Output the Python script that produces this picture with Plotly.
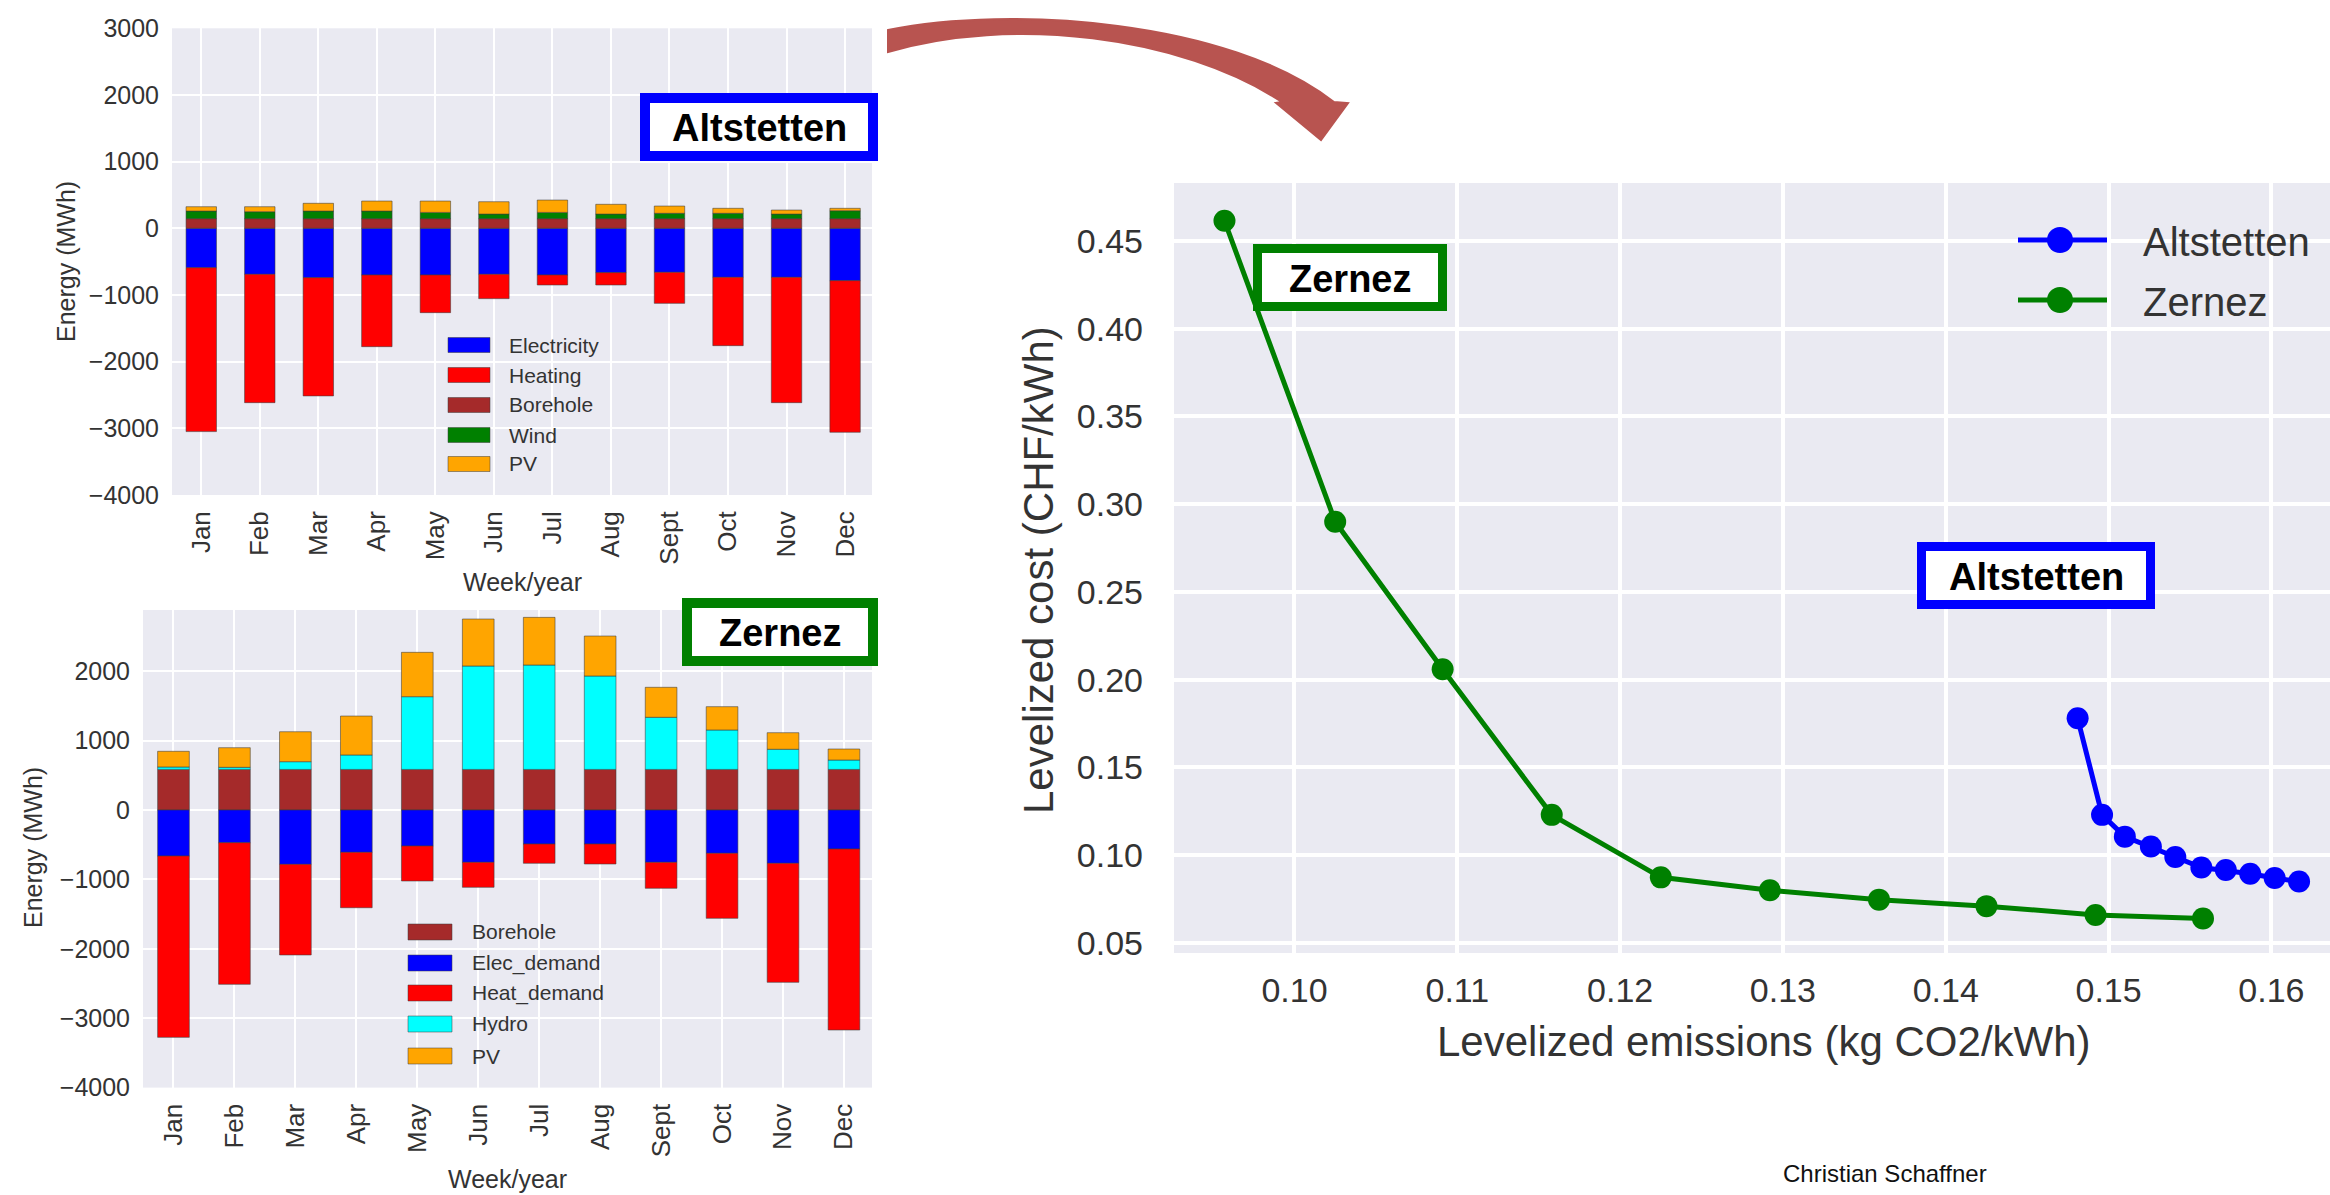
import plotly.graph_objects as go

W, H = 2330, 1195

# ---------------- data ----------------
months = ['Jan', 'Feb', 'Mar', 'Apr', 'May', 'Jun', 'Jul', 'Aug', 'Sept', 'Oct', 'Nov', 'Dec']

# Altstetten monthly energy balance (MWh)
alt_electricity = [-591, -690, -740, -700, -700, -690, -700, -665, -660, -735, -735, -785]
alt_heating = [-2458, -1925, -1774, -1075, -565, -365, -150, -185, -465, -1025, -1880, -2274]
alt_borehole = [145, 145, 145, 145, 145, 145, 145, 145, 145, 145, 145, 145]
alt_wind = [114, 104, 114, 114, 94, 69, 94, 69, 80, 80, 69, 119]
alt_pv = [65, 75, 116, 150, 170, 185, 185, 146, 109, 75, 60, 36]

# Zernez monthly energy balance (MWh)
zer_borehole = [585, 585, 585, 585, 585, 585, 585, 585, 585, 585, 585, 585]
zer_elec = [-663, -471, -783, -610, -519, -754, -490, -490, -754, -624, -768, -562]
zer_heat = [-2613, -2041, -1306, -798, -504, -360, -278, -288, -374, -937, -1715, -2608]
zer_hydro = [35, 30, 111, 208, 1048, 1490, 1504, 1346, 751, 568, 290, 135]
zer_pv = [226, 283, 432, 561, 639, 677, 687, 576, 432, 336, 239, 159]

# Pareto fronts
alt_emis = [0.1481, 0.1496, 0.1510, 0.1526, 0.1541, 0.1557, 0.1572, 0.1587, 0.1602, 0.1617]
alt_cost = [0.178, 0.123, 0.1106, 0.105, 0.099, 0.093, 0.0916, 0.0895, 0.087, 0.085]
zer_emis = [0.0957, 0.1025, 0.1091, 0.1158, 0.1225, 0.1292, 0.1359, 0.1425, 0.1492, 0.1558]
zer_cost = [0.4615, 0.290, 0.206, 0.123, 0.0874, 0.080, 0.0747, 0.071, 0.066, 0.064]

alt_names = ['Electricity', 'Heating', 'Borehole', 'Wind', 'PV']
zer_names = ['Borehole', 'Elec_demand', 'Heat_demand', 'Hydro', 'PV']
front_names = ['Altstetten', 'Zernez']

# ---------------- styling ----------------
C = dict(blue='#0000FF', red='#FF0000', brown='#A52A2A', green='#008000',
         orange='#FFA500', cyan='#00FFFF')
alt_colors = [C['blue'], C['red'], C['brown'], C['green'], C['orange']]
zer_colors = [C['brown'], C['blue'], C['red'], C['cyan'], C['orange']]
front_colors = [C['blue'], C['green']]
TXT = '#333333'
FONT = 'Liberation Sans, Arial, sans-serif'
BG = '#EAEAF2'


def px(x):
    return x / W


def py(y):
    return 1 - y / H


fig = go.Figure()
edge = dict(width=1, color='rgba(60,60,60,0.55)')

for name, vals, col in zip(alt_names, [alt_electricity, alt_heating, alt_borehole, alt_wind, alt_pv], alt_colors):
    fig.add_trace(go.Bar(x=months, y=vals, name=name, marker=dict(color=col, line=edge),
                         width=0.52, xaxis='x', yaxis='y', showlegend=False))

for name, vals, col in zip(zer_names, [zer_borehole, zer_elec, zer_heat, zer_hydro, zer_pv], zer_colors):
    fig.add_trace(go.Bar(x=months, y=vals, name=name, marker=dict(color=col, line=edge),
                         width=0.52, xaxis='x2', yaxis='y2', showlegend=False))

for name, xs, ys, col in zip(front_names, [alt_emis, zer_emis], [alt_cost, zer_cost], front_colors):
    fig.add_trace(go.Scatter(x=xs, y=ys, name=name, mode='lines+markers',
                             line=dict(color=col, width=5), marker=dict(size=22, color=col),
                             xaxis='x3', yaxis='y3', showlegend=False))

bar_x = dict(type='category', showgrid=True, gridcolor='white', gridwidth=2, zeroline=False,
             showline=False, ticks='', tickangle=-90, tickfont=dict(size=26, color=TXT, family=FONT),
             range=[-0.5, 11.46], ticklabelstandoff=10, automargin=False)
bar_y = dict(showgrid=True, gridcolor='white', gridwidth=2, zeroline=False, showline=False,
             ticks='', dtick=1000, tick0=0, tickformat='d', tickfont=dict(size=25, color=TXT, family=FONT),
             ticklabelstandoff=12, automargin=False)

fig.update_layout(
    width=W, height=H, autosize=False, margin=dict(l=0, r=0, t=0, b=0, pad=0),
    paper_bgcolor='white', plot_bgcolor=BG, barmode='relative', showlegend=False,
    font=dict(family=FONT, color=TXT),
    xaxis=dict(domain=[px(172), px(872)], anchor='y', **bar_x),
    yaxis=dict(domain=[py(495), py(28.3)], anchor='x', range=[-4000, 3000], **bar_y),
    xaxis2=dict(domain=[px(143), px(872)], anchor='y2', **bar_x),
    yaxis2=dict(domain=[py(1087.6), py(610)], anchor='x2', range=[-4000, 2882], **bar_y),
    xaxis3=dict(domain=[px(1174), 1.0], anchor='y3', range=[0.0926, 0.1636], dtick=0.01, tick0=0.1,
                tickformat='.2f', showgrid=True, gridcolor='white', gridwidth=3.5, zeroline=False,
                showline=False, ticks='', tickfont=dict(size=34, color=TXT, family=FONT),
                ticklabelstandoff=14, automargin=False),
    yaxis3=dict(domain=[py(953), py(183)], anchor='x3', range=[0.0443, 0.483], dtick=0.05, tick0=0.05,
                tickformat='.2f', showgrid=True, gridcolor='white', gridwidth=3.5, zeroline=False,
                showline=False, ticks='', tickfont=dict(size=34, color=TXT, family=FONT),
                ticklabelstandoff=30, automargin=False),
)

annotations = []
shapes = []


def text(x, y, s, size, angle=0, color=TXT, xanchor='center', bold=False):
    annotations.append(dict(x=px(x), y=py(y), xref='paper', yref='paper', text=s, showarrow=False,
                            textangle=angle, xanchor=xanchor, yanchor='middle',
                            font=dict(size=size, color=color, family=FONT,
                                      weight='bold' if bold else 'normal')))


# axis titles
text(66, 262, 'Energy (MWh)', 25, angle=-90)
text(522, 582, 'Week/year', 25)
text(33, 848, 'Energy (MWh)', 25, angle=-90)
text(507, 1179, 'Week/year', 25)
text(1764, 1041, 'Levelized emissions (kg CO2/kWh)', 42)
text(1038, 570, 'Levelized cost (CHF/kWh)', 42, angle=-90)


# bar-chart legends (swatches + text)
def bar_legend(names, colors, x0, x1, ys, h, tx):
    for n, c, yy in zip(names, colors, ys):
        shapes.append(dict(type='rect', xref='paper', yref='paper', x0=px(x0), x1=px(x1),
                           y0=py(yy + h / 2), y1=py(yy - h / 2), fillcolor=c,
                           line=dict(width=1, color='rgba(60,60,60,0.5)')))
        text(tx, yy, n, 21, xanchor='left')


bar_legend(alt_names, alt_colors, 448, 490, [345, 375, 405, 435, 464], 15, 507)
bar_legend(zer_names, zer_colors, 408, 452, [932, 963, 993, 1024, 1056], 16, 470)

# line-chart legend (line + marker + text)
for n, c, yy in zip(front_names, front_colors, [240, 300]):
    shapes.append(dict(type='line', xref='paper', yref='paper', x0=px(2018), x1=px(2107),
                       y0=py(yy), y1=py(yy), line=dict(width=5, color=c)))
    shapes.append(dict(type='circle', xref='paper', yref='paper', x0=px(2047), x1=px(2073),
                       y0=py(yy + 13), y1=py(yy - 13), fillcolor=c, line=dict(width=0)))
    text(2141, yy + 2, n, 40, xanchor='left')


# boxed site labels
def box(x0, y0, x1, y1, col, label, lw=10):
    shapes.append(dict(type='rect', xref='paper', yref='paper', x0=px(x0), x1=px(x1),
                       y0=py(y1), y1=py(y0), fillcolor='white', line=dict(width=lw, color=col)))
    text((x0 + x1) / 2, (y0 + y1) / 2 + 1, label, 38, color='black', bold=True)


box(645, 98, 873, 156, C['blue'], 'Altstetten')
box(687, 603, 873, 661, C['green'], 'Zernez')
box(1257.5, 248.5, 1442.5, 306.5, C['green'], 'Zernez', lw=9)
box(1921.5, 546.5, 2150.5, 604.5, C['blue'], 'Altstetten', lw=9)


# curved arrow
def P(x, y):
    return f'{px(x):.5f},{py(y):.5f}'


arrow = ('M ' + P(888, 30) + ' C ' + P(1010, 5) + ' ' + P(1230, 20) + ' ' + P(1334, 102) +
         ' L ' + P(1348, 103) + ' L ' + P(1321, 140) + ' L ' + P(1276, 103) + ' L ' + P(1282, 102) +
         ' C ' + P(1180, 35) + ' ' + P(1010, 16) + ' ' + P(888, 52) + ' Z')
shapes.append(dict(type='path', xref='paper', yref='paper', path=arrow, fillcolor='#B85450',
                   line=dict(width=2, color='#B85450')))

text(1885, 1173, 'Christian Schaffner', 24, color='#111111')

fig.update_layout(annotations=annotations, shapes=shapes)
fig.write_html('out.html', config={'responsive': False, 'displayModeBar': False},
               post_script="document.body.style.margin='0';document.body.style.overflow='hidden';")
